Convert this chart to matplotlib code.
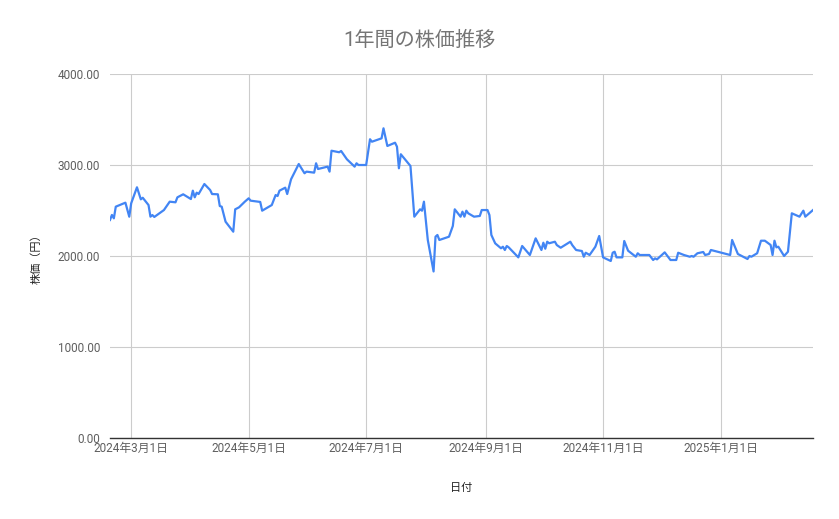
import pandas as pd
import matplotlib.pyplot as plt
import matplotlib.dates as mdates
from matplotlib.ticker import FuncFormatter, MultipleLocator

plt.rcParams['font.family'] = ['Roboto', 'Noto Sans CJK JP', 'DejaVu Sans']

# Data
dates = [
    "2024-02-19", "2024-02-20", "2024-02-21", "2024-02-22", "2024-02-27", "2024-02-29",
    "2024-03-01", "2024-03-04", "2024-03-06", "2024-03-07", "2024-03-10", "2024-03-11",
    "2024-03-12", "2024-03-13", "2024-03-18", "2024-03-21", "2024-03-24", "2024-03-25",
    "2024-03-28", "2024-04-01", "2024-04-02", "2024-04-03", "2024-04-04", "2024-04-05",
    "2024-04-08", "2024-04-11", "2024-04-12", "2024-04-15", "2024-04-16", "2024-04-17",
    "2024-04-19", "2024-04-23", "2024-04-24", "2024-04-26", "2024-04-29", "2024-05-01",
    "2024-05-02", "2024-05-07", "2024-05-08", "2024-05-13", "2024-05-15", "2024-05-16",
    "2024-05-17", "2024-05-20", "2024-05-21", "2024-05-23", "2024-05-27", "2024-05-30",
    "2024-05-31", "2024-06-04", "2024-06-05", "2024-06-06", "2024-06-11", "2024-06-12",
    "2024-06-13", "2024-06-17", "2024-06-18", "2024-06-21", "2024-06-25", "2024-06-26",
    "2024-06-27", "2024-07-01", "2024-07-03", "2024-07-04", "2024-07-09", "2024-07-10",
    "2024-07-12", "2024-07-16", "2024-07-17", "2024-07-18", "2024-07-19", "2024-07-24",
    "2024-07-26", "2024-07-29", "2024-07-30", "2024-07-31", "2024-08-02", "2024-08-05",
    "2024-08-06", "2024-08-07", "2024-08-08", "2024-08-13", "2024-08-15", "2024-08-16",
    "2024-08-19", "2024-08-20", "2024-08-21", "2024-08-22", "2024-08-23", "2024-08-26",
    "2024-08-29", "2024-08-30", "2024-09-02", "2024-09-03", "2024-09-04", "2024-09-06",
    "2024-09-09", "2024-09-10", "2024-09-11", "2024-09-12", "2024-09-13", "2024-09-18",
    "2024-09-20", "2024-09-24", "2024-09-27", "2024-09-30", "2024-10-01", "2024-10-02",
    "2024-10-03", "2024-10-04", "2024-10-07", "2024-10-08", "2024-10-10", "2024-10-15",
    "2024-10-16", "2024-10-18", "2024-10-21", "2024-10-22", "2024-10-23", "2024-10-25",
    "2024-10-28", "2024-10-30", "2024-11-01", "2024-11-05", "2024-11-06", "2024-11-07",
    "2024-11-08", "2024-11-11", "2024-11-12", "2024-11-14", "2024-11-18", "2024-11-19",
    "2024-11-20", "2024-11-25", "2024-11-27", "2024-11-28", "2024-11-29", "2024-12-03",
    "2024-12-06", "2024-12-09", "2024-12-10", "2024-12-13", "2024-12-16", "2024-12-17",
    "2024-12-18", "2024-12-20", "2024-12-23", "2024-12-24", "2024-12-26", "2024-12-27",
    "2025-01-06", "2025-01-07", "2025-01-10", "2025-01-15", "2025-01-16", "2025-01-17",
    "2025-01-20", "2025-01-22", "2025-01-24", "2025-01-27", "2025-01-28", "2025-01-29",
    "2025-01-30", "2025-01-31", "2025-02-03", "2025-02-05", "2025-02-07", "2025-02-11",
    "2025-02-13", "2025-02-14", "2025-02-18",
]

prices = [
    2396, 2451, 2414, 2542, 2586, 2432,
    2579, 2755, 2623, 2640, 2560, 2432,
    2450, 2429, 2505, 2597, 2590, 2645,
    2678, 2626, 2718, 2645, 2696, 2681,
    2791, 2725, 2681, 2678, 2549, 2542,
    2377, 2267, 2513, 2535, 2597, 2634,
    2608, 2594, 2498, 2560, 2670, 2659,
    2718, 2751, 2681, 2843, 3011, 2909,
    2927, 2916, 3019, 2956, 2982, 2927,
    3157, 3140, 3154, 3063, 2982, 3019,
    3000, 3000, 3283, 3256, 3293, 3403,
    3209, 3245, 3201, 2964, 3118, 2989,
    2432, 2513, 2498, 2597, 2176, 1830,
    2212, 2231, 2176, 2212, 2330, 2513,
    2432, 2487, 2432, 2498, 2469, 2432,
    2440, 2505, 2505, 2450, 2231, 2139,
    2085, 2102, 2066, 2110, 2095, 1985,
    2110, 2011, 2194, 2066, 2146, 2080,
    2157, 2140, 2157, 2120, 2091, 2157,
    2120, 2066, 2055, 1992, 2036, 2011,
    2102, 2220, 1985, 1945, 2036, 2047,
    1985, 1985, 2165, 2058, 1992, 2030,
    2011, 2011, 1956, 1974, 1963, 2040,
    1956, 1956, 2036, 2011, 1992, 2000,
    1992, 2030, 2044, 2011, 2022, 2066,
    2011, 2176, 2022, 1967, 2000, 1992,
    2030, 2168, 2168, 2121, 2011, 2168,
    2095, 2102, 2000, 2047, 2469, 2432,
    2498, 2432, 2505,
]

xticks = ["2024-03-01", "2024-05-01", "2024-07-01", "2024-09-01", "2024-11-01", "2025-01-01"]

df = pd.DataFrame({"date": pd.to_datetime(dates), "price": prices})

fig = plt.figure(figsize=(8.39, 5.19), dpi=100)
ax = fig.add_axes([110 / 839, 1 - 438 / 519, 703 / 839, 364 / 519])

ax.plot(df["date"], df["price"], color="#4285f4", linewidth=1.6, solid_joinstyle="round")

ax.set_xlim(df["date"].iloc[0], df["date"].iloc[-1])
ax.set_ylim(0, 4000)
ax.yaxis.set_major_locator(MultipleLocator(1000))
ax.yaxis.set_major_formatter(FuncFormatter(lambda v, p: f"{v:.2f}"))

tick_dates = pd.to_datetime(xticks)
ax.set_xticks(tick_dates)
ax.set_xticklabels([f"{d.year}年{d.month}月{d.day}日" for d in tick_dates])

ax.grid(True, color="#cccccc", linewidth=0.8)
ax.set_axisbelow(True)
for side in ["top", "right", "left"]:
    ax.spines[side].set_visible(False)
ax.spines["bottom"].set_color("#333333")
ax.spines["bottom"].set_linewidth(1.0)
ax.spines["bottom"].set_zorder(3)

ax.tick_params(axis="both", length=0, labelsize=8.5, labelcolor="#5f5f5f")
ax.tick_params(axis="y", pad=7)
ax.tick_params(axis="x", pad=3)

fig.text(0.5, 1 - 40 / 519, "1年間の株価推移", ha="center", va="center",
         fontsize=14.5, color="#757575")
ax.set_xlabel("日付", fontsize=8, color="#222222", labelpad=20)
ax.set_ylabel("株価（円）", fontsize=8, color="#222222", labelpad=12)

fig.savefig("out.png", dpi=100)
